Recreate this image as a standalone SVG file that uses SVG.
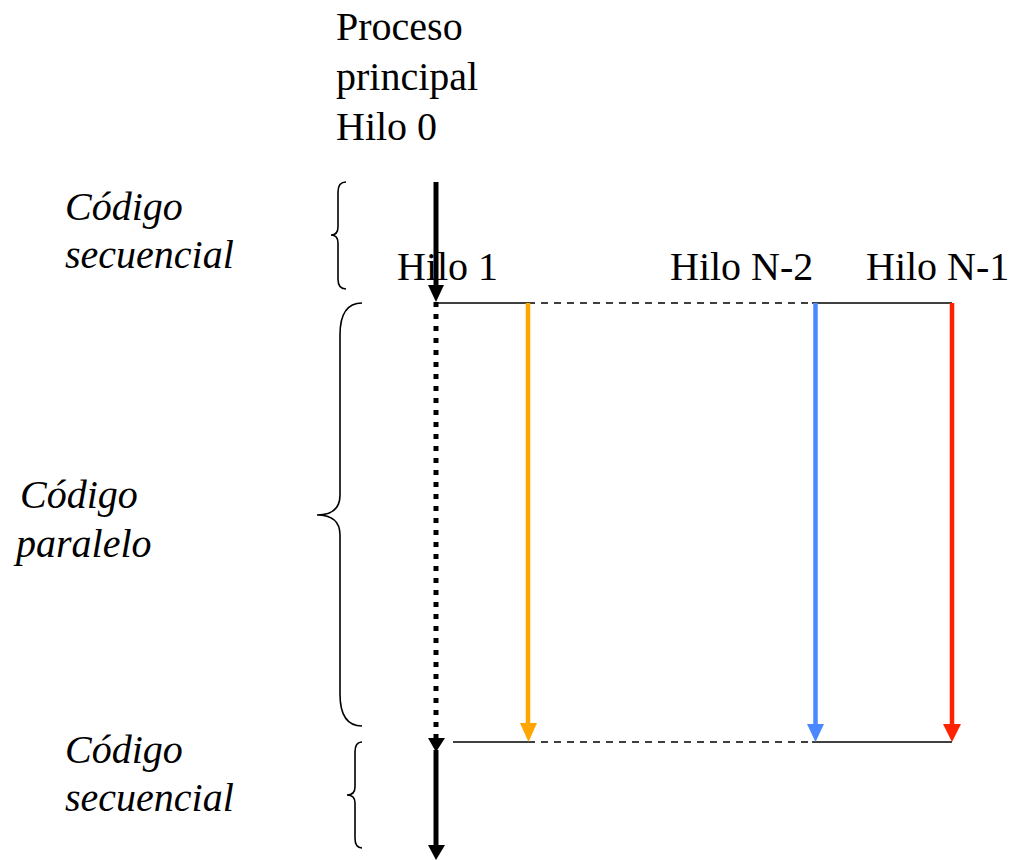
<svg xmlns="http://www.w3.org/2000/svg" width="1015" height="860" viewBox="0 0 1015 860">
<style>
.br{fill:none;stroke:#000;stroke-width:1.6}
.h{stroke:#000;stroke-width:1.6;fill:none}
.d{stroke-dasharray:7 6}
</style>
<rect width="1015" height="860" fill="#fff"/>
<g id="labels" font-family="Liberation Serif, DejaVu Serif, serif" font-size="40" fill="#000">
<g id="proceso"><text x="336" y="40">Proceso</text><text x="336" y="90">principal</text><text x="336" y="140">Hilo 0</text></g>
<g id="hilo1"><text x="397" y="280">Hilo 1</text></g>
<g id="hiloN2"><text x="670" y="280">Hilo N-2</text></g>
<g id="hiloN1"><text x="866" y="280">Hilo N-1</text></g>
<g id="seq1" font-style="italic"><text x="65" y="220">Código</text><text x="65" y="268">secuencial</text></g>
<g id="par" font-style="italic"><text x="20" y="508">Código</text><text x="16" y="557">paralelo</text></g>
<g id="seq2" font-style="italic"><text x="65" y="763">Código</text><text x="65" y="811">secuencial</text></g>
</g>
<g id="braces">
<path class="br" d="M346 182 Q338 182 338 192 L338 227 Q338 235 331 235 Q338 235 338 243 L338 279 Q338 289 346 289"/>
<path class="br" d="M362 303 Q340 303 340 335 L340 495 Q340 515 317 515 Q340 515 340 535 L340 694 Q340 726 362 726"/>
<path class="br" d="M362 742 Q355 742 355 752 L355 787 Q355 795 347 795 Q355 795 355 803 L355 838 Q355 848 362 848"/>
</g>
<g id="connectors">
<line class="h" x1="436" y1="303" x2="528" y2="303"/>
<line class="h d" x1="528" y1="303" x2="812" y2="303"/>
<line class="h" x1="812" y1="303" x2="952" y2="303"/>
<line class="h" x1="453" y1="742" x2="528" y2="742"/>
<line class="h d" x1="528" y1="742" x2="812" y2="742"/>
<line class="h" x1="812" y1="742" x2="952" y2="742"/>
<line x1="436" y1="182" x2="436" y2="288" stroke="#000" stroke-width="5"/>
<polygon points="428,285 444,285 436,302" fill="#000"/>
<line x1="436" y1="302" x2="436" y2="738" stroke="#000" stroke-width="5" stroke-dasharray="5 7"/>
<polygon points="428,738 445,738 436,752" fill="#000"/>
<line x1="436" y1="750" x2="436" y2="846" stroke="#000" stroke-width="5"/>
<polygon points="428,845 445,845 436,860" fill="#000"/>
<line x1="528" y1="303" x2="528" y2="726" stroke="#FFA500" stroke-width="4.5"/>
<polygon points="520,723 537,723 528.5,742" fill="#FFA500"/>
<line x1="815.5" y1="303" x2="815.5" y2="726" stroke="#4A88FF" stroke-width="4.5"/>
<polygon points="807,724 824,724 815.5,742" fill="#4A88FF"/>
<line x1="952" y1="303" x2="952" y2="726" stroke="#FF2200" stroke-width="4.5"/>
<polygon points="943,724 961,724 952,742" fill="#FF2200"/>
</g>
</svg>
